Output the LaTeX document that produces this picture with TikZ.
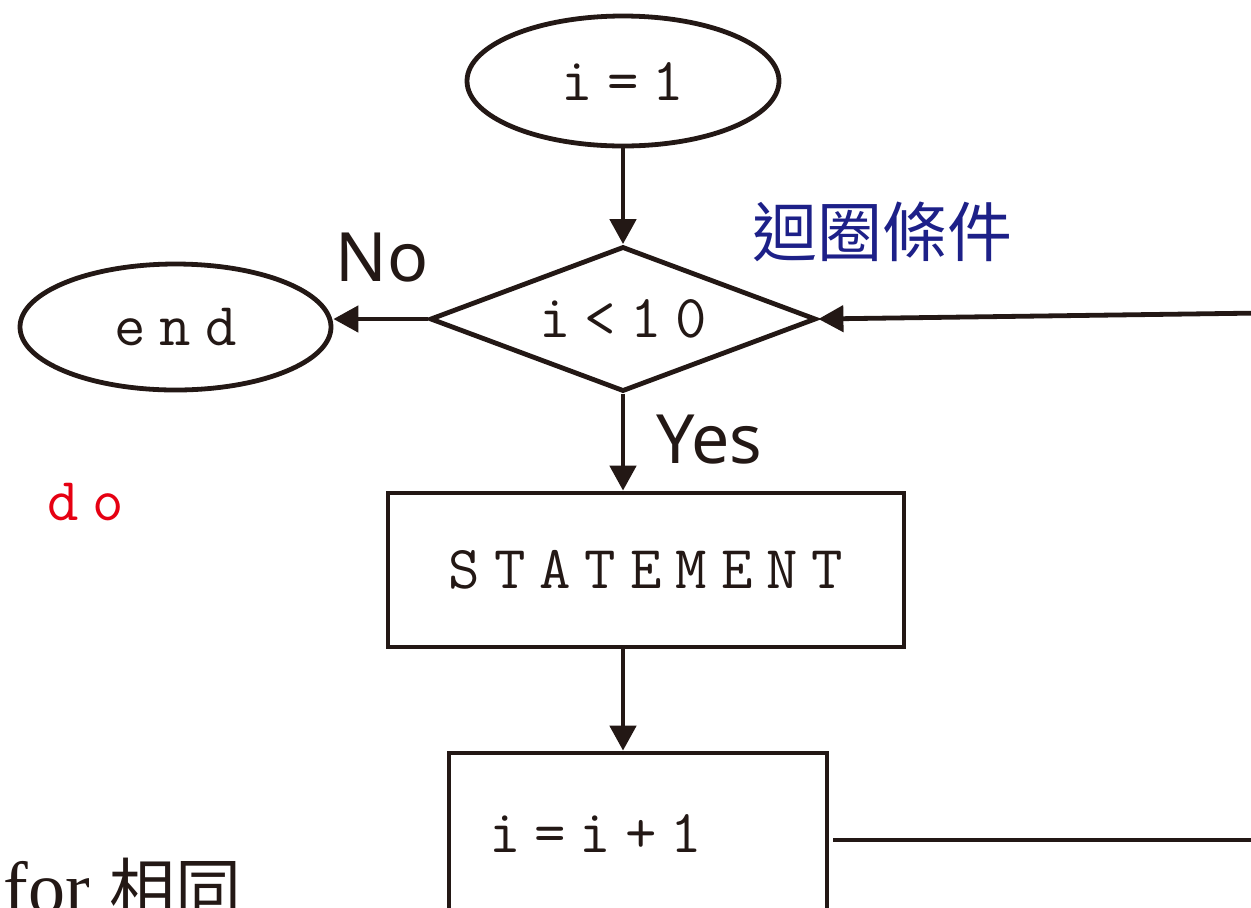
\documentclass[tikz,border=0pt]{standalone}
\usepackage{fontspec}
\usetikzlibrary{shapes.geometric,arrows.meta,calc}
\newfontfamily\cjkfont{Noto Sans CJK TC}
\newfontfamily\labelsans{Noto Sans}
\newfontfamily\notefont{Liberation Serif}
\definecolor{ink}{HTML}{231815}
\definecolor{loopblue}{HTML}{1D2088}
\definecolor{kwred}{HTML}{E60012}
% typewriter text with wide tracking: a kern goes between every two characters
\newlength\tracking
\setlength\tracking{7pt}
\makeatletter
\def\spaced#1{\sp@first#1\@nil}
\def\sp@first#1{#1\sp@rest}
\def\sp@rest#1{\ifx#1\@nil\else\kern\tracking#1\expandafter\sp@rest\fi}
\makeatother
\newcommand\monotext{\ttfamily\fontsize{30.5pt}{30.5pt}\selectfont}
\begin{document}
\begin{tikzpicture}[x=0.5pt,y=-0.5pt,
  every node/.style={inner sep=0pt},
  shapeline/.style={draw=ink, line width=2.4pt},
  terminal/.style={shapeline, ellipse, font=\monotext, text=ink},
  decision/.style={shapeline, diamond, aspect=2.6, font=\monotext, text=ink},
  process/.style={shapeline, rectangle, font=\monotext, text=ink},
  flow/.style={draw=ink, line width=2.4pt, -{Triangle[length=12.5pt,width=13pt]}},
  plainline/.style={draw=ink, line width=2.4pt},
  answer/.style={font=\labelsans\fontsize{34pt}{34pt}\selectfont, text=ink}]
  \fill[white] (0,0) rectangle (1251,907);
  \useasboundingbox (0,0) rectangle (1251,907);
  \clip (0,0) rectangle (1251,907);

  % flowchart shapes
  \node[terminal, minimum width=156pt, minimum height=65pt] (start) at (623,81) {\spaced{i=1}};
  \node[decision, minimum width=193pt, minimum height=72.5pt] (cond) at (623,319) {\spaced{i<10}};
  \node[terminal, minimum width=155.5pt, minimum height=63pt] (stop) at (175.5,327) {\spaced{end}};
  \node[process, minimum width=258pt, minimum height=77pt] (body) at (646,570) {\spaced{STATEMENT}};
  \node[process, minimum height=80pt, text width=149pt, inner xsep=20pt, align=left] (incr) at (638,833) {\spaced{i=i+1}};

  % connectors
  \coordinate (backIn) at (1262,313);
  \coordinate (backOut) at (1262,840);
  \draw[flow] (start.south) -- (cond.north);
  \draw[flow] (cond.west) -- (cond.west -| stop.east);
  \draw[flow] (cond.south) -- (cond.south |- body.north);
  \draw[flow] (cond.south |- body.south) -- (cond.south |- incr.north);
  \draw[flow] (backIn) -- (cond.east);
  \draw[plainline] ($(incr.east |- backOut)+(4,0)$) -- (backOut);

  % labels
  \node[answer] (no) at (382,257.5) {No};
  \node[answer] (yes) at (709,440) {Yes};
  \node[font=\cjkfont\fontsize{32.5pt}{32.5pt}\selectfont, text=loopblue] (condlabel) at (882,232) {迴圈條件};
  \node[font=\monotext, text=kwred, anchor=base west] (kw) at (47,520) {\spaced{do}};
  \node[font=\notefont\fontsize{37pt}{37pt}\selectfont, text=ink, anchor=base west] (note) at (3,913) {for\kern10pt{\cjkfont\fontsize{33pt}{33pt}\selectfont 相同}};
\end{tikzpicture}
\end{document}
